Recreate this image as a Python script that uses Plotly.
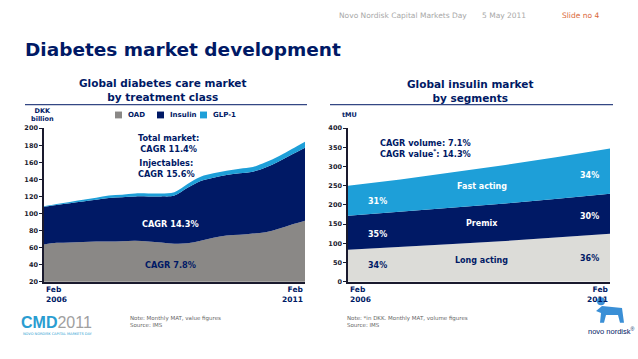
import plotly.graph_objects as go

# ---------------- data ----------------
# Left chart: quarterly points Feb 2006 .. Feb 2011 (DKK billion)
left_dates = ["2006-02-01", "2006-05-01", "2006-08-01", "2006-11-01",
              "2007-02-01", "2007-05-01", "2007-08-01", "2007-11-01",
              "2008-02-01", "2008-05-01", "2008-08-01", "2008-11-01",
              "2009-02-01", "2009-05-01", "2009-08-01", "2009-11-01",
              "2010-02-01", "2010-05-01", "2010-08-01", "2010-11-01",
              "2011-02-01"]
oad = [63.5, 65.5, 66, 66.5, 67, 67, 67.5, 68, 67, 66, 64.5, 65, 68, 71.5,
       74, 75, 76.5, 78, 82, 87, 91.5]
insulin = [44.5, 44.5, 46, 47.5, 49, 51, 51.5, 52, 53, 54, 56.5, 65, 70, 70.5,
           71, 72, 72.5, 76, 79, 82, 85.5]
glp1 = [0.5, 1, 1.5, 2, 2.5, 3, 3, 3.5, 3.5, 3.5, 4, 4.5, 5, 5, 5, 5.5, 5.5,
        6, 6, 6.5, 7]

# Right chart: annual points Feb 2006 .. Feb 2011 (tMU)
right_dates = ["2006-02-01", "2007-02-01", "2008-02-01", "2009-02-01",
               "2010-02-01", "2011-02-01"]
long_acting = [83, 90, 98, 106, 115, 125]
premix = [89, 92, 95, 98, 101, 104]
fast_acting = [78, 84, 92, 100, 109, 118]

left_ticks = [20, 40, 60, 80, 100, 120, 140, 160, 180, 200]
right_ticks = [0, 50, 100, 150, 200, 250, 300, 350, 400]

# ---------------- styling ----------------
NAVY = "#001965"
GREY = "#8a8886"
LIGHTBLUE = "#1e9fd8"
LIGHTGREY = "#dcdcd8"
FONT = "DejaVu Sans"
W, H = 638, 359

def px(x):
    return x / W

def py(y):
    return 1 - y / H

fig = go.Figure()

for name, vals, col in [("OAD", oad, GREY), ("Insulin", insulin, NAVY),
                        ("GLP-1", glp1, LIGHTBLUE)]:
    fig.add_trace(go.Scatter(x=left_dates, y=vals, name=name, stackgroup="l",
                             mode="lines", line=dict(width=0, color=col),
                             fillcolor=col, xaxis="x", yaxis="y",
                             showlegend=False, line_shape="spline",
                             hoverinfo="skip"))

for name, vals, col in [("Long acting", long_acting, LIGHTGREY),
                        ("Premix", premix, NAVY),
                        ("Fast acting", fast_acting, LIGHTBLUE)]:
    fig.add_trace(go.Scatter(x=right_dates, y=vals, name=name, stackgroup="r",
                             mode="lines", line=dict(width=0, color=col),
                             fillcolor=col, xaxis="x2", yaxis="y2",
                             showlegend=False, hoverinfo="skip"))

ydom = [py(284), py(127)]
axis_common = dict(showgrid=False, zeroline=False, showline=True,
                   linecolor="#1a1a2e", linewidth=1.5)
fig.update_layout(
    width=W, height=H, margin=dict(l=0, r=0, t=0, b=0),
    plot_bgcolor="white", paper_bgcolor="white",
    font=dict(family=FONT, color=NAVY),
    xaxis=dict(domain=[px(44), px(305)], range=["2006-02-01", "2011-02-01"],
               showticklabels=False, ticks="", **axis_common),
    yaxis=dict(domain=ydom, range=[20, 200], tickvals=left_ticks,
               ticktext=[f"<b>{v}</b>" for v in left_ticks],
               ticks="outside", ticklen=3, tickcolor="#1a1a2e",
               tickfont=dict(size=6.5, color="#1a1a2e", family=FONT),
               **axis_common),
    xaxis2=dict(domain=[px(348), px(610)], range=["2006-02-01", "2011-02-01"],
                showticklabels=False, ticks="", **axis_common),
    yaxis2=dict(domain=ydom, range=[0, 400], tickvals=right_ticks,
                ticktext=[f"<b>{v}</b>" for v in right_ticks],
                anchor="x2", ticks="outside", ticklen=3, tickcolor="#1a1a2e",
                tickfont=dict(size=6.5, color="#1a1a2e", family=FONT),
                **axis_common),
)

ann = []

def text(x, y, t, size=8, color=NAVY, anchor="center", bold=False,
         yanchor="middle", family=FONT):
    if bold:
        t = "<b>" + t + "</b>"
    ann.append(dict(x=px(x), y=py(y), xref="paper", yref="paper", text=t,
                    showarrow=False, xanchor=anchor, yanchor=yanchor,
                    align=anchor if anchor != "center" else "center",
                    font=dict(size=size, color=color, family=family)))

# header
text(403, 12, "Novo Nordisk Capital Markets Day", size=7.5, color="#a8a8a8")
text(504, 12, "5 May 2011", size=7.5, color="#a8a8a8")
text(580, 12, "Slide no 4", size=7.5, color="#d9683a")
text(23, 47, "Diabetes market development", size=18.5, bold=True, anchor="left")

# subtitles
text(162, 88, "Global diabetes care market<br>by treatment class", size=10.5, bold=True)
text(470, 89, "Global insulin market<br>by segments", size=10.5, bold=True)

# axis units
text(42, 114, "DKK<br>billion", size=6.5, bold=True)
text(349, 114, "tMU", size=6.5, bold=True)

# legend
for x0, lbl, col in [(115, "OAD", GREY), (157, "Insulin", NAVY), (200, "GLP-1", LIGHTBLUE)]:
    fig.add_shape(type="rect", xref="paper", yref="paper",
                  x0=px(x0), x1=px(x0 + 7), y0=py(117), y1=py(110),
                  fillcolor=col, line=dict(width=0))
    text(x0 + 11, 113.5, lbl, size=7, bold=True, anchor="left")

# underlines
for a, b in [(25, 307), (330, 613)]:
    fig.add_shape(type="line", xref="paper", yref="paper", x0=px(a), x1=px(b),
                  y0=py(103), y1=py(103), line=dict(color=NAVY, width=1))

# x labels
text(44, 297, "Feb<br>2006", size=7.5, bold=True, anchor="left")
text(306, 297, "Feb<br>2011", size=7.5, bold=True, anchor="right")
text(348, 297, "Feb<br>2006", size=7.5, bold=True, anchor="left")
text(611, 297, "Feb<br>2011", size=7.5, bold=True, anchor="right")

# left annotations
text(168, 143, "Total market:<br>CAGR 11.4%", size=8.2, bold=True)
text(166, 168, "Injectables:<br>CAGR 15.6%", size=8.2, bold=True)
text(170, 225, "CAGR 14.3%", size=8.2, bold=True, color="white")
text(170, 267, "CAGR 7.8%", size=8.2, bold=True, color=NAVY)

# right annotations
text(378, 148, "CAGR volume: 7.1%<br>CAGR value<sup>*</sup>: 14.3%", size=8.2, bold=True, anchor="left")
text(482, 187, "Fast acting", size=8, bold=True, color="white")
text(589, 175, "34%", size=8, bold=True, color="white")
text(377, 202, "31%", size=8, bold=True, color="white")
text(482, 224, "Premix", size=8, bold=True, color="white")
text(589, 217, "30%", size=8, bold=True, color="white")
text(377, 236, "35%", size=8, bold=True, color="white")
text(482, 262, "Long acting", size=8, bold=True, color=NAVY)
text(589, 260, "36%", size=8, bold=True, color=NAVY)
text(377, 267, "34%", size=8, bold=True, color=NAVY)

# footer notes
text(128, 325, "Note: Monthly MAT, value figures<br>Source: IMS", size=5.5, color="#666666", anchor="left")
text(345, 325, "Note: *in DKK. Monthly MAT, volume figures<br>Source: IMS", size=5.5, color="#666666", anchor="left")

# CMD2011 logo text
text(19, 326, "<b><span style='color:#2a9dd1'>CMD</span></b><span style='color:#a0a0a0'>2011</span>",
     size=16, anchor="left", family="Liberation Sans Narrow, Liberation Sans")
text(21, 338, "NOVO NORDISK CAPITAL MARKETS DAY", size=3.5, color="#2a9dd1", anchor="left")

# Novo Nordisk logo text + simple emblem
text(611, 334, "novo nordisk<sup>®</sup>", size=7.5, color=NAVY,
     family="Liberation Sans")
fig.add_shape(type="circle", xref="paper", yref="paper",
              x0=px(597), x1=px(605), y0=py(308), y1=py(300),
              fillcolor="#3a8fd6", line=dict(width=0))
fig.add_shape(type="path", xref="paper", yref="paper",
              path=f"M {px(596)},{py(314)} L {px(602)},{py(309)} L {px(622)},{py(311)} "
                   f"L {px(624)},{py(326)} L {px(620)},{py(326)} L {px(618)},{py(318)} "
                   f"L {px(606)},{py(318)} L {px(604)},{py(326)} L {px(600)},{py(326)} "
                   f"L {px(601)},{py(316)} Z",
              fillcolor="#3a8fd6", line=dict(width=0))

fig.update_layout(annotations=ann)
fig.write_html("out.html", config={"displayModeBar": False},
               post_script="document.body.style.margin='0';document.body.style.overflow='hidden';")
